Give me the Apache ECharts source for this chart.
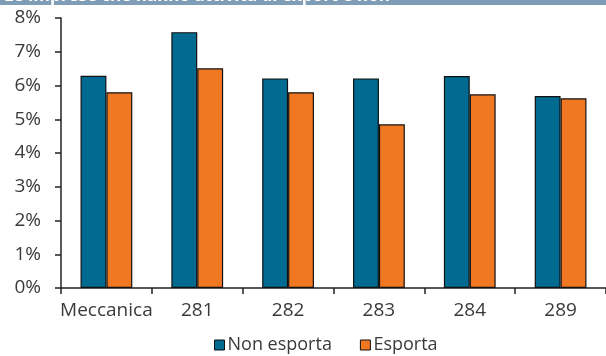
<!DOCTYPE html>
<html>
<head>
<meta charset="utf-8">
<script src="https://cdn.jsdelivr.net/npm/echarts@6/dist/echarts.min.js"></script>
<style>html,body{margin:0;padding:0;background:#fff}#c{width:606px;height:356px}</style>
</head>
<body>
<div id="c"></div>
<script>
var categories = ['Meccanica', '281', '282', '283', '284', '289'];
var nonEsporta = [6.29, 7.58, 6.21, 6.21, 6.28, 5.69];
var esporta = [5.80, 6.51, 5.80, 4.85, 5.74, 5.62];
var seriesNames = ['Non esporta', 'Esporta'];
var yTicks = { min: 0, max: 8, interval: 1 };
var titleText = 'Le imprese che hanno attività di export e non';

var chart = echarts.init(document.getElementById('c'), null, { renderer: 'canvas' });
var font = '"Open Sans", "Noto Sans", sans-serif';
chart.setOption({
  animation: false,
  backgroundColor: '#fff',
  graphic: [
    { type: 'rect', shape: { x: 0, y: 0, width: 606, height: 5 }, style: { fill: '#7f9db6' }, z: 10 },
    { type: 'text', left: 4, top: -12, style: { text: titleText, fill: '#fff', font: 'bold 17px ' + font }, z: 11 }
  ],
  grid: { left: 61, right: 0, top: 18, bottom: 68 },
  xAxis: {
    type: 'category',
    data: categories,
    axisLine: { lineStyle: { color: '#222', width: 1.5 } },
    axisTick: { show: true, length: 6, lineStyle: { color: '#222', width: 1.5 } },
    axisLabel: { color: '#3a3a3a', fontSize: 19, fontFamily: font, margin: 13, interval: 0 }
  },
  yAxis: {
    type: 'value',
    min: yTicks.min, max: yTicks.max, interval: yTicks.interval,
    axisLine: { show: true, lineStyle: { color: '#222', width: 1.5 } },
    axisTick: { show: true, length: 6, lineStyle: { color: '#222', width: 1.5 } },
    splitLine: { show: false },
    axisLabel: { color: '#3a3a3a', fontSize: 19, fontFamily: font, margin: 20, formatter: '{value}%' }
  },
  legend: {
    top: 331, left: 209,
    itemWidth: 10, itemHeight: 10, itemGap: 28,
    icon: 'rect',
    itemStyle: { borderColor: '#111', borderWidth: 1 },
    textStyle: { color: '#3a3a3a', fontSize: 18, fontFamily: font, padding: [0, 0, 0, -2] },
    data: seriesNames
  },
  series: [
    { name: seriesNames[0], type: 'bar', data: nonEsporta, barGap: '0%', barCategoryGap: '43%',
      itemStyle: { color: '#006a91', borderColor: '#111', borderWidth: 1.2 } },
    { name: seriesNames[1], type: 'bar', data: esporta,
      itemStyle: { color: '#f07823', borderColor: '#111', borderWidth: 1.2 } }
  ]
});
</script>
</body>
</html>
